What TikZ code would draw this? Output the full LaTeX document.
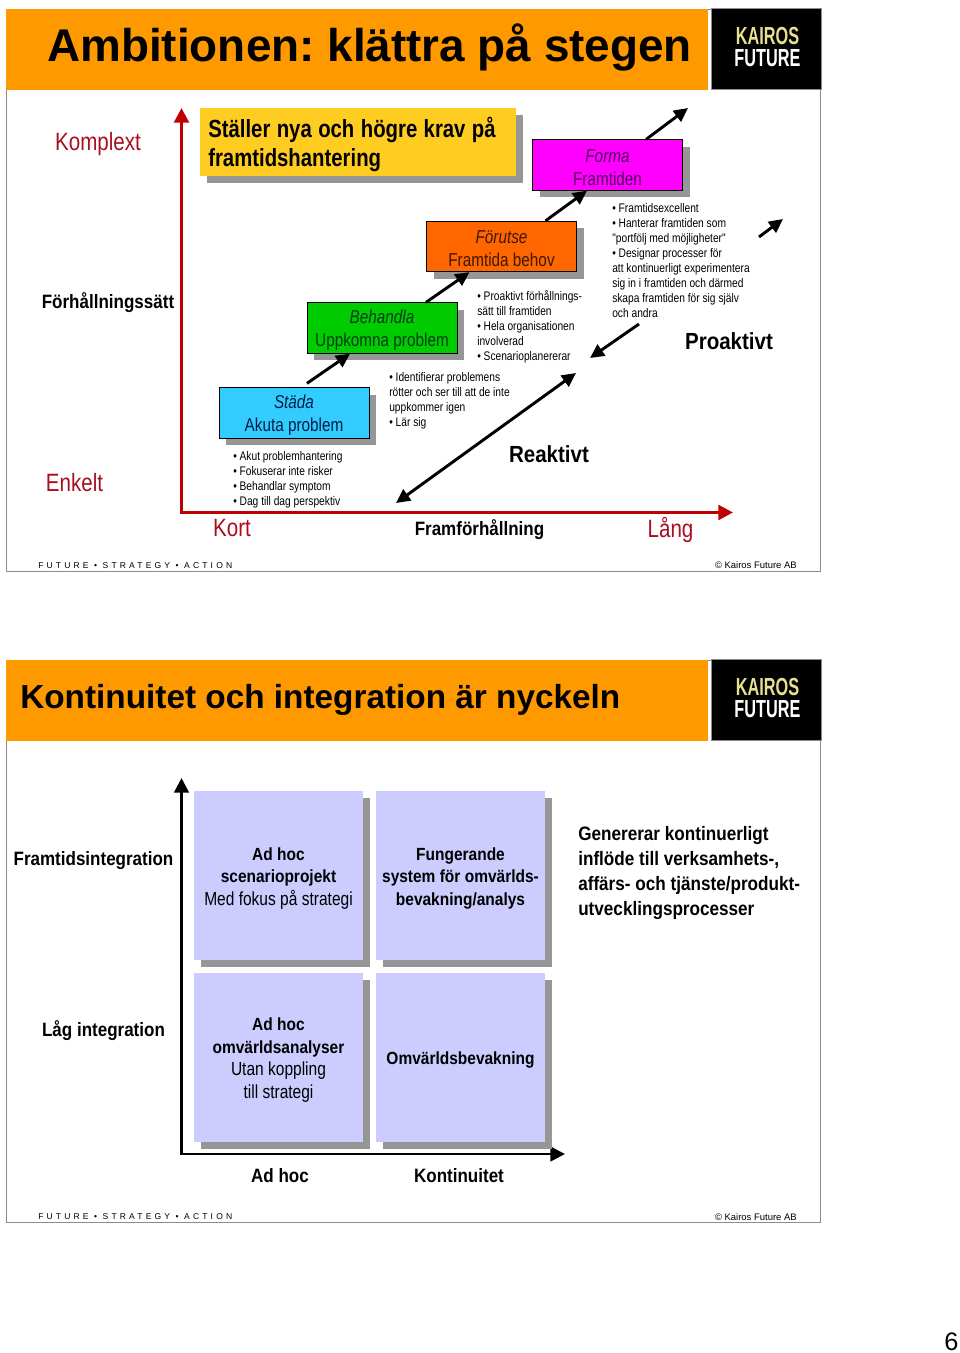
\documentclass[tikz,border=0pt]{standalone}
\usepackage{fontspec}
\usetikzlibrary{arrows.meta,shadows}
\setmainfont{Liberation Sans}
\newfontfamily\nar{Liberation Sans}[FakeStretch=0.82]
\newfontfamily\narw{Liberation Sans}[FakeStretch=0.88]
\newfontfamily\spaced{Liberation Sans}[LetterSpace=37]
\newfontfamily\logofont{Liberation Sans}[FakeStretch=0.66]
\newcommand{\qb}[1]{{\narw\bfseries\fontsize{13.2}{16.9}\selectfont #1}}
\definecolor{orangehead}{HTML}{FF9900}
\definecolor{frameg}{HTML}{8C8C8C}
\definecolor{shadowg}{HTML}{969696}
\definecolor{axisred}{HTML}{C00000}
\definecolor{labelred}{HTML}{A80E1E}
\definecolor{yellowbox}{HTML}{FFCC22}
\definecolor{lilac}{HTML}{CCCCFF}
\definecolor{logoyellow}{HTML}{E8DF90}
\frenchspacing
\tikzset{
  x=0.75pt,y=-0.75pt,
  frame/.style={draw=frameg,line width=0.75pt},
  headbar/.style={fill=orangehead,draw=none},
  logobar/.style={fill=black,draw=frameg,line width=0.5pt},
  shadowed/.style={general shadow={fill=shadowg,draw=none,shadow xshift=5.25pt,shadow yshift=-5.25pt}},
  stepbox/.style={shadowed,draw=black,line width=0.7pt,minimum width=112.5pt,minimum height=37.8pt,inner sep=0pt,text width=112pt,align=center,font=\nar\fontsize{14}{17.25}\selectfont,execute at begin node={\spaceskip=3.2pt\rule{0pt}{13pt}}},
  quad/.style={shadowed,fill=lilac,minimum width=126.75pt,minimum height=126.75pt,inner sep=0pt,text width=126pt,align=center,font=\nar\fontsize{14.2}{16.9}\selectfont,execute at begin node={\spaceskip=3.25pt}},
  lowered/.style={execute at begin node={\rule{0pt}{13.5pt}}},
  small/.style={anchor=north west,inner sep=0pt,align=left,font=\nar\fontsize{9.35}{11.25}\selectfont},
  redlabel/.style={text=labelred,inner sep=0pt,font=\nar\fontsize{18.8}{22}\selectfont},
  boldlabel/.style={inner sep=0pt,font=\narw\bfseries\fontsize{14.5}{20}\selectfont},
  bigbold/.style={inner sep=0pt,font=\narw\bfseries\fontsize{17.5}{22}\selectfont},
  stepar/.style={-{Triangle[length=10.5pt,width=10pt]},line width=2.2pt,black},
  twoway/.style={{Triangle[length=10.5pt,width=10pt]}-{Triangle[length=10.5pt,width=10pt]},line width=2.2pt,black},
  redaxis/.style={{Triangle[length=11pt,width=11pt]}-{Triangle[length=11pt,width=11pt]},line width=2.4pt,axisred,line join=miter},
  blackaxis/.style={{Triangle[length=11pt,width=11pt]}-{Triangle[length=11pt,width=11pt]},line width=1.9pt,black,line join=miter},
  footl/.style={anchor=west,inner sep=0pt,font=\spaced\fontsize{6.4}{9}\selectfont},
  footr/.style={anchor=east,inner sep=0pt,font=\fontsize{7.1}{9}\selectfont},
  logok/.style={inner sep=0pt,text=logoyellow,font=\logofont\bfseries\fontsize{18.5}{20}\selectfont},
  logof/.style={inner sep=0pt,text=white,font=\logofont\bfseries\fontsize{18.5}{20}\selectfont},
}
\begin{document}
\begin{tikzpicture}
\useasboundingbox (0,0) rectangle (960,1353);
% ---------- slide 1
\draw[frame] (6.5,9) rectangle (820.5,571);
\fill[headbar] (6,9) rectangle (708,89.5);
\path[logobar] (711,8) rectangle (821,89);
\node[inner sep=0pt,anchor=base west,font=\bfseries\fontsize{34.4}{40}\selectfont] (t1) at (47,61) {Ambitionen: klättra på stegen};
\node[logok] (k1) at (767.5,36) {KAIROS};
\node[logof] (f1) at (767.5,58.5) {FUTURE};
% axes
\coordinate (ry) at (181.5,108);
\coordinate (ro) at (181.5,512.5);
\coordinate (rx) at (733,512.5);
\draw[redaxis] (ry) -- (ro) -- (rx);
% yellow
\node[shadowed,fill=yellowbox,anchor=north west,minimum width=237pt,minimum height=51pt,inner sep=0pt,inner xsep=6pt,align=left,font=\nar\bfseries\fontsize{18.6}{22}\selectfont,text width=225pt,execute at begin node={\spaceskip=4.8pt\rule{0pt}{18.4pt}}] (krav) at (200,108) {Ställer nya och högre krav på\\framtidshantering};
% steps
\node[stepbox,fill={rgb,255:red,51;green,204;blue,255},text={rgb,255:red,0;green,30;blue,70}] (stada) at (294,413) {{\itshape Städa}\\Akuta problem};
\node[stepbox,fill={rgb,255:red,0;green,204;blue,0},text={rgb,255:red,0;green,60;blue,20}] (behandla) at (382,328) {{\itshape Behandla}\\Uppkomna problem};
\node[stepbox,fill={rgb,255:red,255;green,102;blue,0},text={rgb,255:red,60;green,25;blue,0}] (forutse) at (501.5,246.5) {{\itshape Förutse}\\Framtida behov};
\node[stepbox,fill={rgb,255:red,255;green,0;blue,255},text={rgb,255:red,80;green,0;blue,90}] (forma) at (607.5,165) {{\itshape Forma}\\Framtiden};
% step arrows
\coordinate (upend) at (688,108);
\coordinate (smalls) at (759,237);
\coordinate (smalle) at (783,219);
\coordinate (pros) at (639,324);
\coordinate (proe) at (590,358);
\coordinate (reaa) at (396,503);
\coordinate (reab) at (576,373);
\draw[stepar] ([xshift=9.75pt,yshift=3pt]stada.north) -- ([xshift=-24pt]behandla.south);
\draw[stepar] ([xshift=33pt]behandla.north) -- ([xshift=-24pt]forutse.south);
\draw[stepar] ([xshift=33pt]forutse.north) -- ([xshift=-15.4pt]forma.south);
\draw[stepar] ([xshift=29pt]forma.north) -- (upend);
\draw[stepar] (smalls) -- (smalle);
\draw[stepar] (pros) -- (proe);
\draw[twoway] (reaa) -- (reab);
% small texts
\node[small] (t2) at (233,451.5) {• Akut problemhantering\\• Fokuserar inte risker\\• Behandlar symptom\\• Dag till dag perspektiv};
\node[small] (t3) at (389,372.5) {• Identifierar problemens\\rötter och ser till att de inte\\uppkommer igen\\• Lär sig};
\node[small] (t4) at (477,290.5) {• Proaktivt förhållnings-\\sätt till framtiden\\• Hela organisationen\\involverad\\• Scenarioplanererar};
\node[small] (t5) at (612,203.5) {• Framtidsexcellent\\• Hanterar framtiden som\\"portfölj med möjligheter"\\• Designar processer för\\att kontinuerligt experimentera\\sig in i framtiden och därmed\\skapa framtiden för sig själv\\och andra};
% labels
\node[redlabel] (komplext) at (98,144) {Komplext};
\node[boldlabel] (forh) at (108,303) {Förhållningssätt};
\node[redlabel] (enkelt) at (74.5,483) {Enkelt};
\node[redlabel] (kort) at (232,528) {Kort};
\node[boldlabel] (framf) at (479.5,530) {Framförhållning};
\node[redlabel] (lang) at (670.5,530) {Lång};
\node[bigbold] (reak) at (549,454) {Reaktivt};
\node[bigbold] (proa) at (729,341) {Proaktivt};
\node[footl] (fsa1) at (38,565.5) {FUTURE • STRATEGY • ACTION};
\node[footr] (c1) at (797,565.5) {© Kairos Future AB};
% ---------- slide 2
\draw[frame] (6.5,660) rectangle (820.5,1222);
\fill[headbar] (6,660) rectangle (708,740.5);
\path[logobar] (711,659) rectangle (821,740);
\node[inner sep=0pt,anchor=base west,font=\bfseries\fontsize{25}{30}\selectfont] (t6) at (20,708) {Kontinuitet och integration är nyckeln};
\node[logok] (k2) at (767.5,687) {KAIROS};
\node[logof] (f2) at (767.5,709.5) {FUTURE};
\coordinate (by) at (181.5,778);
\coordinate (bo) at (181.5,1154);
\coordinate (bx) at (565,1154);
\draw[blackaxis] (by) -- (bo) -- (bx);
\node[quad,lowered] (q1) at (278.5,875.5) {\qb{Ad hoc}\\\qb{scenarioprojekt}\\Med fokus på strategi};
\node[quad,lowered] (q2) at (460.5,875.5) {\qb{Fungerande}\\\qb{system för omvärlds-}\\\qb{bevakning/analys}};
\node[quad,lowered] (q3) at (278.5,1057.5) {\qb{Ad hoc}\\\qb{omvärldsanalyser}\\Utan koppling\\till strategi};
\node[quad,execute at begin node={\rule{0pt}{13pt}}] (q4) at (460.5,1057.5) {\qb{Omvärldsbevakning}};
\node[boldlabel] (fi) at (93.5,861) {Framtidsintegration};
\node[boldlabel] (li) at (103.5,1031) {Låg integration};
\node[boldlabel] (ah) at (280,1176) {Ad hoc};
\node[boldlabel] (ko) at (459,1176) {Kontinuitet};
\node[anchor=north west,inner sep=0pt,align=left,font=\narw\bfseries\fontsize{14.6}{18.75}\selectfont] (gen) at (578,826) {Genererar kontinuerligt\\inflöde till verksamhets-,\\affärs- och tjänste/produkt-\\utvecklingsprocesser};
\node[footl] (fsa2) at (38,1217) {FUTURE • STRATEGY • ACTION};
\node[footr] (c2) at (797,1217) {© Kairos Future AB};
\node[inner sep=0pt,font=\fontsize{19}{22}\selectfont] (pg) at (951.5,1342) {6};
\end{tikzpicture}
\end{document}
